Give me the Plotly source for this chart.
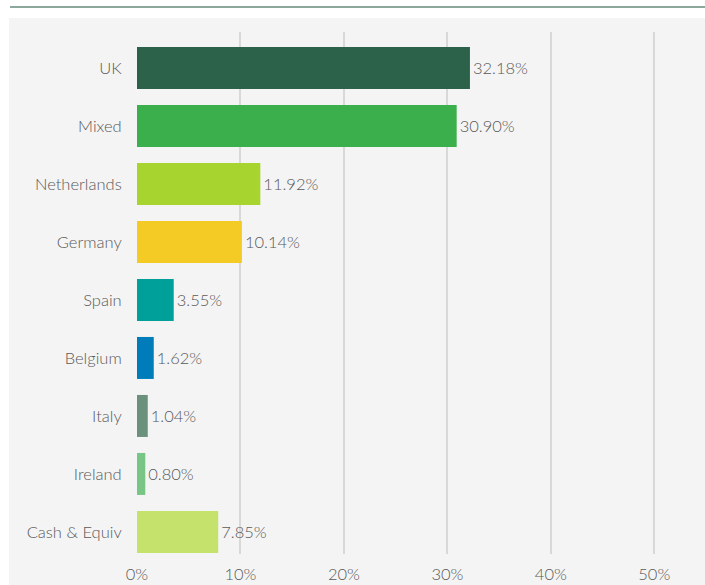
import plotly.graph_objects as go

categories = ["UK", "Mixed", "Netherlands", "Germany", "Spain", "Belgium", "Italy", "Ireland", "Cash & Equiv"]
values = [32.18, 30.90, 11.92, 10.14, 3.55, 1.62, 1.04, 0.80, 7.85]
colors = ["#2c6249", "#3caf4d", "#a8d42f", "#f3cb24", "#00a09a", "#007cba", "#6b917c", "#78c686", "#c5e26d"]
tick_vals = [0, 10, 20, 30, 40, 50]
tick_text = ["0%", "10%", "20%", "30%", "40%", "50%"]

FONT = "Lato, 'Open Sans', sans-serif"
TXT = "#595959"
FS = 16.5

fig = go.Figure(go.Bar(
    y=categories,
    x=values,
    orientation="h",
    marker=dict(color=colors, line=dict(width=0)),
    width=0.724,
    text=[f"{v:.2f}%" for v in values],
    textposition="outside",
    textfont=dict(family=FONT, size=FS, color=TXT, weight=300),
    cliponaxis=False,
    hoverinfo="skip",
))

fig.update_layout(
    width=705, height=585,
    margin=dict(l=137, r=0, t=32, b=31),
    paper_bgcolor="white",
    plot_bgcolor="rgba(0,0,0,0)",
    showlegend=False,
    font=dict(family=FONT, size=FS, color=TXT, weight=300),
    xaxis=dict(
        range=[0, 54.9],
        tickvals=tick_vals,
        ticktext=tick_text,
        showgrid=True,
        gridcolor="#d8d8d6",
        gridwidth=2,
        zeroline=False,
        showline=False,
        ticks="outside",
        ticklen=5,
        tickcolor="rgba(0,0,0,0)",
        tickfont=dict(family=FONT, size=FS, color=TXT, weight=300),
        automargin=False,
        fixedrange=True,
    ),
    yaxis=dict(
        categoryorder="array",
        categoryarray=categories,
        range=[8.38, -0.62],
        showgrid=False,
        zeroline=False,
        showline=False,
        ticks="outside",
        ticklen=11,
        tickcolor="rgba(0,0,0,0)",
        tickfont=dict(family=FONT, size=FS, color=TXT, weight=300),
        automargin=False,
        fixedrange=True,
    ),
    shapes=[
        dict(type="rect", xref="paper", yref="paper",
             x0=-0.2254, x1=1.05, y0=-0.1, y1=1.0268,
             fillcolor="#f4f4f4", line=dict(width=0), layer="below"),
        dict(type="line", xref="paper", yref="paper",
             x0=-0.2236, x1=1.05, y0=1.0479, y1=1.0479,
             line=dict(color="#8ca89a", width=2), layer="below"),
    ],
)

fig.write_html(
    "out.html",
    config={"displayModeBar": False, "staticPlot": True},
    post_script="document.body.style.margin='0';document.body.style.overflow='hidden';",
)
